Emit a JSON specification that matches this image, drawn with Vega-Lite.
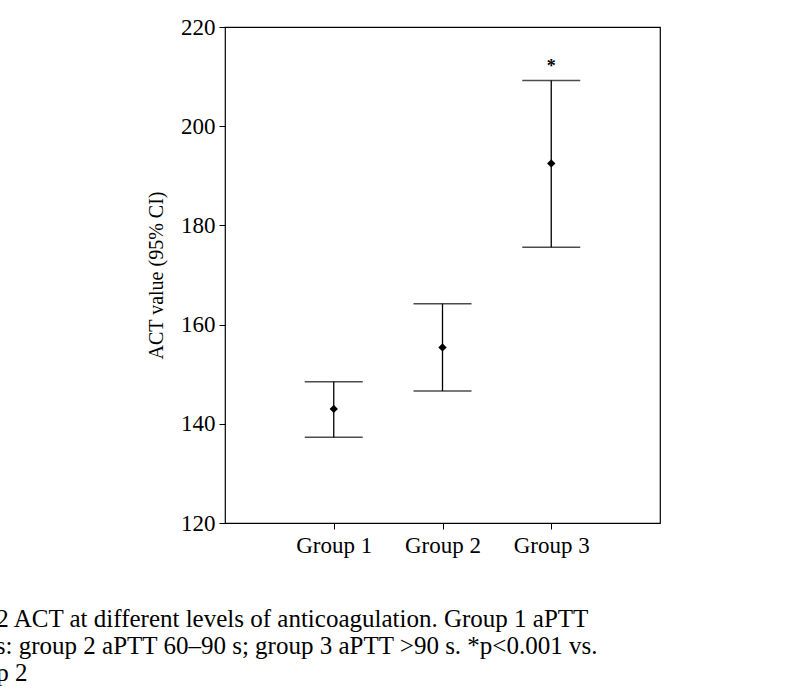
{
  "$schema": "https://vega.github.io/schema/vega-lite/v6.json",
  "width": 435,
  "height": 496,
  "autosize": "none",
  "padding": {"left": 225, "top": 27, "right": 140, "bottom": 170},
  "background": "white",
  "config": {
    "font": "Liberation Serif",
    "view": {"stroke": "black", "strokeWidth": 1.2},
    "axis": {"grid": false, "domainColor": "black", "tickColor": "black", "labelColor": "black", "titleColor": "black", "labelFont": "Liberation Serif", "titleFont": "Liberation Serif"}
  },
  "title": {
    "text": ["Fig. 2  ACT at different levels of anticoagulation. Group 1 aPTT", "<60 s: group 2 aPTT 60–90 s; group 3 aPTT >90 s. *p<0.001 vs.", "group 2"],
    "orient": "bottom",
    "anchor": "start",
    "dx": -196,
    "offset": 50,
    "fontSize": 25,
    "fontWeight": "normal",
    "font": "Liberation Serif",
    "color": "black",
    "lineHeight": 27
  },
  "data": {
    "values": [
      {"group": "Group 1", "mean": 143.0, "lo": 137.3, "hi": 148.5},
      {"group": "Group 2", "mean": 155.4, "lo": 146.6, "hi": 164.2},
      {"group": "Group 3", "mean": 192.5, "lo": 175.6, "hi": 209.2, "star": "*", "starY": 212}
    ]
  },
  "encoding": {
    "x": {
      "field": "group", "type": "ordinal", "title": null,
      "scale": {"type": "point", "padding": 1},
      "axis": {"labelAngle": 0, "labelFontSize": 23, "labelPadding": 5, "tickSize": 6, "domain": false}
    }
  },
  "layer": [
    {
      "mark": {"type": "rule", "color": "black", "strokeWidth": 1.3},
      "encoding": {
        "y": {"field": "lo", "type": "quantitative", "scale": {"domain": [120, 220]},
          "title": "ACT value (95% CI)",
          "axis": {"values": [120, 140, 160, 180, 200, 220], "labelFontSize": 23, "titleFontSize": 20, "titleFontWeight": "normal", "tickSize": 6, "labelPadding": 4, "titlePadding": 14, "domain": false}},
        "y2": {"field": "hi"}
      }
    },
    {
      "mark": {"type": "tick", "color": "black", "orient": "horizontal", "size": 58, "thickness": 1.5},
      "encoding": {"y": {"field": "lo", "type": "quantitative"}}
    },
    {
      "mark": {"type": "tick", "color": "black", "orient": "horizontal", "size": 58, "thickness": 1.5},
      "encoding": {"y": {"field": "hi", "type": "quantitative"}}
    },
    {
      "mark": {"type": "point", "shape": "diamond", "filled": true, "color": "black", "size": 70, "opacity": 1},
      "encoding": {"y": {"field": "mean", "type": "quantitative"}}
    },
    {
      "mark": {"type": "text", "fontSize": 18, "fontWeight": "bold", "color": "black", "baseline": "middle"},
      "encoding": {"y": {"field": "starY", "type": "quantitative"}, "text": {"field": "star"}}
    }
  ]
}
